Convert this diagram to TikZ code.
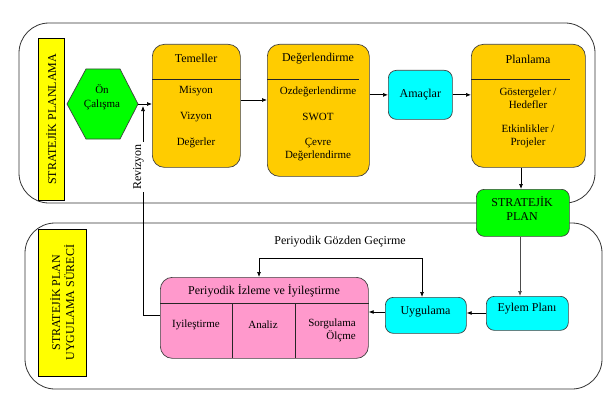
\documentclass[tikz,border=0pt]{standalone}
\usepackage{fontspec}
\setmainfont{Liberation Serif}
\usetikzlibrary{arrows.meta}
\definecolor{orng}{HTML}{FFCC00}
\definecolor{cyn}{HTML}{00FFFF}
\definecolor{grn}{HTML}{00FF00}
\definecolor{ylw}{HTML}{FFFF00}
\definecolor{pnk}{HTML}{FF99CC}
\definecolor{bord}{HTML}{404040}
\begin{document}
\begin{tikzpicture}[x=1pt,y=-1pt,
  container/.style={draw=black!80, line width=0.8pt, rounded corners=30pt},
  obox/.style={draw=bord, fill=orng, line width=0.7pt, rounded corners=12pt, anchor=north west, inner sep=0pt},
  cbox/.style={draw=bord, fill=cyn, line width=0.7pt, rounded corners=8pt, anchor=north west, inner sep=0pt},
  gbox/.style={draw=bord, fill=grn, line width=0.7pt, rounded corners=8pt, anchor=north west, inner sep=0pt},
  pbox/.style={draw=bord, fill=pnk, line width=0.7pt, rounded corners=12pt, anchor=north west, inner sep=0pt},
  ybox/.style={draw=black, fill=ylw, line width=0.6pt, anchor=north west, inner sep=0pt},
  hd/.style={font=\fontsize{12}{14}\selectfont, inner sep=1pt},
  it/.style={font=\fontsize{11}{13}\selectfont, inner sep=1pt, align=center},
  arr/.style={-{Latex[length=5pt,width=4pt]}, line width=0.7pt, draw=black},
  sep/.style={draw=black!85, line width=0.8pt}
]
\useasboundingbox (0,0) rectangle (609,409);

% containers
\draw[container] (19,23) rectangle (595,203);
\draw[container] (25,223) rectangle (602,389);

% yellow labels
\node[ybox, minimum width=26pt, minimum height=162pt] (lab1) at (38,38) {};
\node[hd, rotate=90] at (lab1.center) {STRATEJİK PLANLAMA};
\node[ybox, minimum width=48pt, minimum height=147pt] (lab2) at (38,229) {};
\node[hd, rotate=90, align=center] at (lab2.center) {STRATEJİK PLAN\\UYGULAMA SÜRECİ};

% hexagon
\fill[grn] (67,104) -- (86,69) -- (120,69) -- (138,104) -- (120,139) -- (86,139) -- cycle;
\draw[bord, line width=0.7pt] (67,104) -- (86,69) -- (120,69) -- (138,104) -- (120,139) -- (86,139) -- cycle;
\node[minimum width=71pt, minimum height=70pt, inner sep=0pt] (hex) at (102.5,104) {};
\node[it, font=\fontsize{11}{14}\selectfont] at (102,97) {Ön\\Çalışma};

% Temeller
\node[obox, minimum width=88pt, minimum height=123pt] (tem) at (152,44) {};
\draw[sep] (tem.west |- 0,79) -- (tem.east |- 0,79);
\node[hd] at (196,58) {Temeller};
\node[it] at (196,91) {Misyon};
\node[it] at (196,117) {Vizyon};
\node[it] at (196,143) {Değerler};

% Degerlendirme
\node[obox, minimum width=102pt, minimum height=132pt] (deg) at (267,44) {};
\draw[sep] (267,79) -- (359,79);
\node[hd] at (318,59) {Değerlendirme};
\node[it] at (318,92) {Ozdeğerlendirme};
\node[it] at (318,117) {SWOT};
\node[it] at (318,150) {Çevre\\Değerlendirme};

% Amaclar
\node[cbox, minimum width=64pt, minimum height=49pt] (ama) at (388,70) {};
\node[hd] at (ama.center) {Amaçlar};

% Planlama
\node[obox, minimum width=114pt, minimum height=123pt] (pla) at (471,44) {};
\draw[sep] (471,79) -- (570,79);
\node[hd] at (528,59) {Planlama};
\node[it] at (528,98) {Göstergeler /\\Hedefler};
\node[it] at (528,136) {Etkinlikler /\\Projeler};

% Stratejik plan
\node[gbox, minimum width=93pt, minimum height=47pt] (sp) at (476,189) {};
\node[hd, align=center] at (522,208.5) {STRATEJİK\\PLAN};

% Eylem plani
\node[cbox, minimum width=82pt, minimum height=34pt] (eyl) at (486,296) {};
\node[hd] at (527,309) {Eylem Planı};

% Uygulama
\node[cbox, minimum width=81pt, minimum height=36pt] (uyg) at (385,297) {};
\node[hd] at (425.5,312) {Uygulama};

% Pink box
\node[pbox, minimum width=208pt, minimum height=81pt] (pk) at (160,277) {};
\draw[sep] (pk.west |- 0,303) -- (pk.east |- 0,303);
\draw[sep] (232,303) -- (232,358);
\draw[sep] (295,303) -- (295,358);
\node[hd] at (264,291) {Periyodik İzleme ve İyileştirme};
\node[it] at (196,325) {Iyileştirme};
\node[it] at (263,325) {Analiz};
\node[it, align=right, anchor=north east] at (357,318) {Sorgulama\\Ölçme};

% arrows top row
\draw[arr] (hex.east) -- (tem.west |- hex.east);
\draw[arr] (tem.east |- 0,100) -- (deg.west |- 0,100);
\draw[arr] (deg.east |- ama.west) -- (ama.west);
\draw[arr] (ama.east) -- (pla.west |- ama.east);
\draw[arr] (pla.south -| 521,0) -- (sp.north -| 521,0);
\draw[arr, draw=black!70] (sp.south -| 520,0) -- (eyl.north -| 520,0);
\draw[arr] (eyl.west |- 0,313) -- (uyg.east |- 0,313);
\draw[arr] (uyg.west |- 0,312) -- (pk.east |- 0,312);

% periodic review loop
\coordinate (ga) at (259,258);
\coordinate (gb) at (422,258);
\draw[{Latex[length=5pt,width=4pt]}-{Latex[length=5pt,width=4pt]}, line width=0.7pt] (pk.north -| ga) -- (ga) -- (gb) -- (uyg.north -| gb);
\node[hd] (pgg) at (340,242) {Periyodik Gözden Geçirme};

% revizyon
\coordinate (rv1) at (143,315);
\coordinate (rv2) at (143,106);
\draw[arr] (pk.west |- rv1) -- (rv1) -- (rv2);
\node[hd, rotate=90, fill=white, inner sep=2pt] (rev) at (138.5,167) {Revizyon};
\end{tikzpicture}
\end{document}
